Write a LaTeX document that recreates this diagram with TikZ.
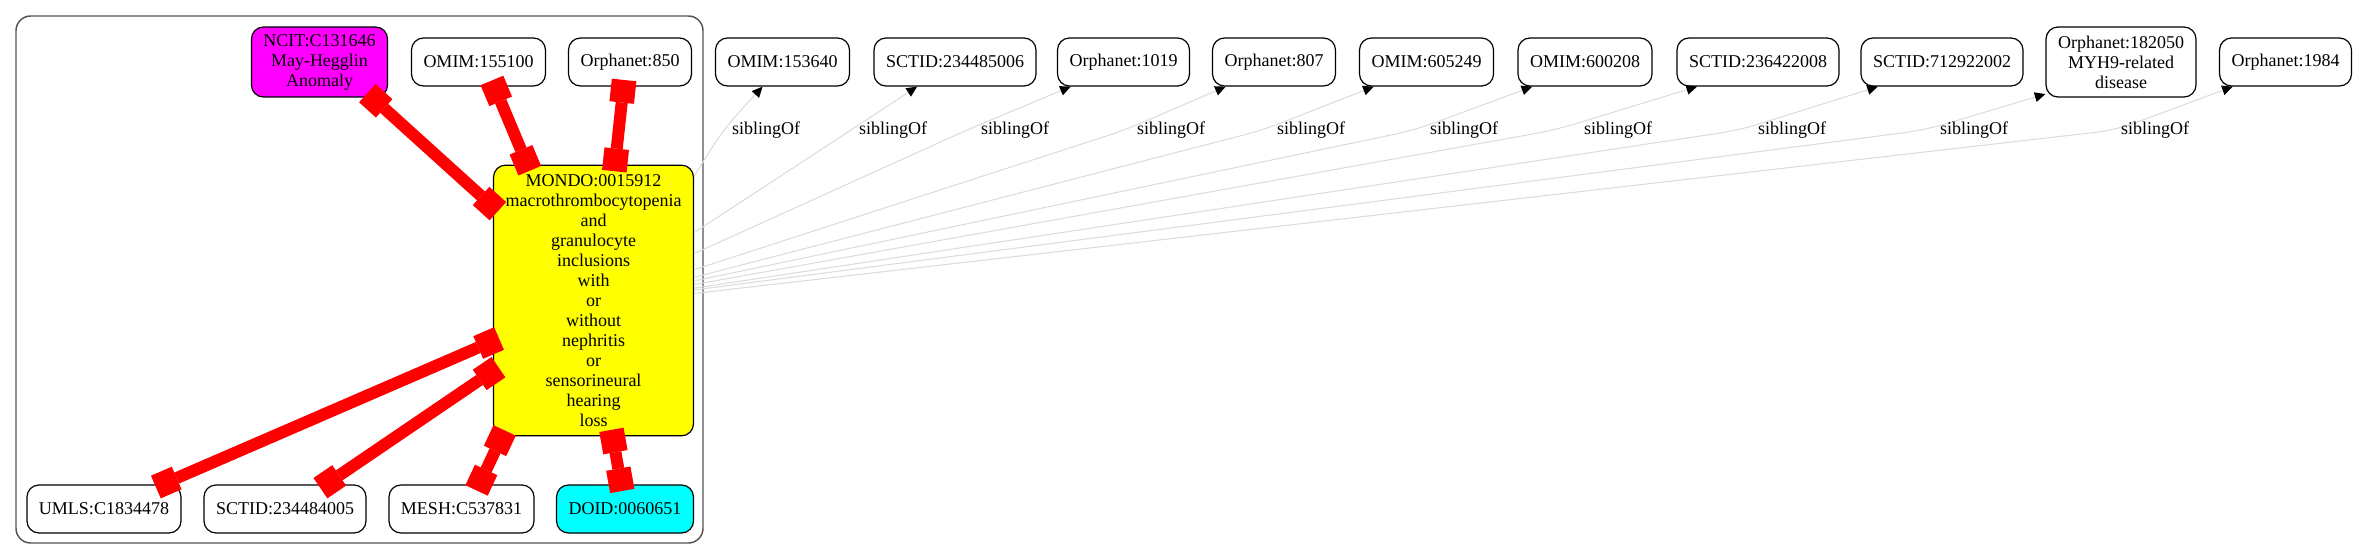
\documentclass[tikz,border=0pt]{standalone}
\usepackage{fontspec}
\setmainfont{Liberation Serif}
\usetikzlibrary{arrows.meta}
\definecolor{sibgray}{RGB}{220,220,220}
\definecolor{clustergray}{RGB}{85,85,85}
\definecolor{nmagenta}{RGB}{255,0,255}
\definecolor{nyellow}{RGB}{255,255,0}
\definecolor{ncyan}{RGB}{0,255,255}
\definecolor{nred}{RGB}{255,0,0}
\begin{document}
\begin{tikzpicture}[x=0.75pt,y=-0.75pt,
  every node/.style={font=\fontsize{13.5}{15}\selectfont},
  nd/.style={draw=black, line width=0.9pt, rounded corners=9pt, minimum height=36pt, inner xsep=9pt, inner ysep=2pt, align=center, fill=white},
  tri/.style={nd, minimum height=52.5pt},
  redge/.style={draw=nred, line width=9pt, >={Square[length=17pt,width=18.5pt,line width=0pt]}, <->, shorten <=-5pt, shorten >=-5pt},
  sib/.style={draw=sibgray, line width=0.8pt, rounded corners=15pt, -{Triangle[length=8pt,width=7.5pt,color=black,line width=0pt]}},
  lbl/.style={inner sep=0pt}
]
\useasboundingbox (0,0) rectangle (2355,560);

% cluster
\node (cluster) [draw=clustergray, line width=1.1pt, rounded corners=11pt, minimum width=515.25pt, minimum height=395.25pt, inner sep=0pt] at (359.5,279.5) {};

% cluster nodes
\node[tri, fill=nmagenta] (ncit) at (319.5,62) {NCIT:C131646\\May-Hegglin\\Anomaly};
\node[nd] (omim155100) at (478.5,62) {OMIM:155100};
\node[nd] (orph850) at (630,62) {Orphanet:850};
\node[nd, fill=nyellow, minimum height=203pt] (mondo) at (593.5,300.5) {MONDO:0015912\\macrothrombocytopenia\\and\\granulocyte\\inclusions\\with\\or\\without\\nephritis\\or\\sensorineural\\hearing\\loss};
\node[nd] (umls) at (104,509) {UMLS:C1834478};
\node[nd] (sctid234484005) at (285,509) {SCTID:234484005};
\node[nd] (mesh) at (461.5,509) {MESH:C537831};
\node[nd, fill=ncyan] (doid) at (625,509) {DOID:0060651};

% outside nodes
\node[nd] (omim153640) at (782.5,62) {OMIM:153640};
\node[nd] (sctid234485006) at (955,62) {SCTID:234485006};
\node[nd] (orph1019) at (1123.5,62) {Orphanet:1019};
\node[nd] (orph807) at (1274,62) {Orphanet:807};
\node[nd] (omim605249) at (1426.5,62) {OMIM:605249};
\node[nd] (omim600208) at (1585,62) {OMIM:600208};
\node[nd] (sctid236422008) at (1758,62) {SCTID:236422008};
\node[nd] (sctid712922002) at (1942,62) {SCTID:712922002};
\node[tri] (orph182050) at (2121,62) {Orphanet:182050\\MYH9-related\\disease};
\node[nd] (orph1984) at (2285.5,62) {Orphanet:1984};

% red edges
\draw[redge] (ncit.-34.4) -- (mondo.137.6);
\draw[redge] (omim155100.-57.1) -- (mondo.116.8);
\draw[redge] (orph850.-105.6) -- (mondo.81.4);
\draw[redge] (mondo.202.4) -- (umls.23.8);
\draw[redge] (mondo.215.6) -- (sctid234484005.31.6);
\draw[redge] (mondo.236.4) -- (mesh.54.7);
\draw[redge] (mondo.278.4) -- (doid.99);

% sibling edges
\coordinate (v1) at (723,130);
\coordinate (v2) at (851,130);
\coordinate (v3) at (967,130);
\coordinate (v4) at (1125,130);
\coordinate (v5) at (1263,130);
\coordinate (v6) at (1415,130);
\coordinate (v7) at (1555,130);
\coordinate (v8) at (1740,130);
\coordinate (v9) at (1925,130);
\coordinate (v10) at (2116,130);

\draw[sib] (mondo.51.6) -- (v1) -- (omim153640.-129.1);
\draw[sib] (mondo.34.2) -- (v2) -- (sctid234485006.-147.7);
\draw[sib] (mondo.25.05) -- (v3) -- (orph1019.-155);
\draw[sib] (mondo.17.6) -- (v4) -- (orph807.-153.9);
\draw[sib] (mondo.13.8) -- (v5) -- (omim605249.-155.8);
\draw[sib] (mondo.11.6) -- (v6) -- (omim600208.-155.2);
\draw[sib] (mondo.9.4) -- (v7) -- (sctid236422008.-158.5);
\draw[sib] (mondo.7.7) -- (v8) -- (sctid712922002.-159.7);
\draw[sib] (mondo.6.0) -- (v9) -- (orph182050.-157.8);
\draw[sib] (mondo.4.3) -- (v10) -- (orph1984.-155.4);

% labels
\node[lbl] (l1) at (766,130) {siblingOf};
\node[lbl] (l2) at (893,130) {siblingOf};
\node[lbl] (l3) at (1015,130) {siblingOf};
\node[lbl] (l4) at (1171,130) {siblingOf};
\node[lbl] (l5) at (1311,130) {siblingOf};
\node[lbl] (l6) at (1464,130) {siblingOf};
\node[lbl] (l7) at (1618,130) {siblingOf};
\node[lbl] (l8) at (1792,130) {siblingOf};
\node[lbl] (l9) at (1974,130) {siblingOf};
\node[lbl] (l10) at (2155,130) {siblingOf};
\end{tikzpicture}
\end{document}
